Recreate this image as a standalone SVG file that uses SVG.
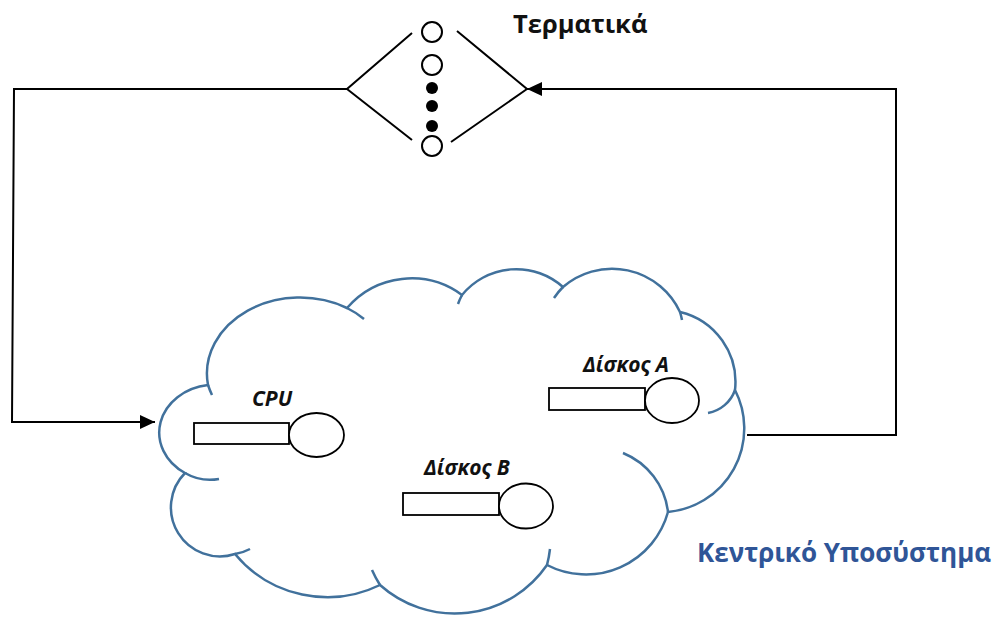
<svg xmlns="http://www.w3.org/2000/svg" width="996" height="617" viewBox="0 0 996 617">
  <defs>
    <marker id="arrow" markerUnits="userSpaceOnUse" markerWidth="16" markerHeight="14" refX="15" refY="7" orient="auto">
      <path d="M0,0 L15,7 L0,14 Z" fill="#000"/>
    </marker>
  </defs>
  <style>
    .cloud { fill: #fff; stroke: #41719C; stroke-width: 2.5; }
    .tail { fill: none; stroke: #41719C; stroke-width: 2.5; }
    .conn { fill: none; stroke: #000; stroke-width: 2; }
    .dev { fill: #fff; stroke: #000; stroke-width: 1.8; }
    .term { fill: #fff; stroke: #000; stroke-width: 2; }
    .dot { fill: #000; }
    .lbl { font-family: "Open Sans", "Liberation Sans", sans-serif; font-weight: bold; fill: #111; }
    .dlbl { font-family: "Open Sans", "Liberation Sans", sans-serif; font-weight: bold; font-style: italic; font-size: 21px; fill: #111; }
  </style>

  <!-- central subsystem: cloud outline with inner arc ticks -->
  <g id="central-subsystem">
    <path class="cloud" d="M185,473 A56,48 0 0 1 208,385 A93,76 0 0 1 347,308 A85,85 0 0 1 462,295 A70,70 0 0 1 563,287 A75,75 0 0 1 680,312 A72,72 0 0 1 735,390 A84,84 0 0 1 668,512 A85,85 0 0 1 547,565 A112,112 0 0 1 380,585 A120,120 0 0 1 235,554 A49,49 0 0 1 185,473 Z"/>
    <path class="tail" d="M185,473 A50,50 0 0 0 219,479"/>
    <path class="tail" d="M208,385 A90,90 0 0 0 212,395"/>
    <path class="tail" d="M347,308 A85,85 0 0 1 364,319"/>
    <path class="tail" d="M462,295 A70,70 0 0 0 458,304"/>
    <path class="tail" d="M563,287 A75,75 0 0 0 554,298"/>
    <path class="tail" d="M680,312 A75,75 0 0 1 682,320"/>
    <path class="tail" d="M735,390 A35,35 0 0 1 708,413"/>
    <path class="tail" d="M623,453 A73,73 0 0 1 668,512"/>
    <path class="tail" d="M547,565 A112,112 0 0 0 550,549"/>
    <path class="tail" d="M380,585 A112,112 0 0 1 372,570"/>
    <path class="tail" d="M235,554 A48,48 0 0 0 250,549"/>
    <text x="697" y="562" font-family="Open Sans, Liberation Sans, sans-serif" font-weight="bold" font-size="26" fill="#2F5597">Κεντρικό Υποσύστημα</text>
  </g>

  <!-- terminals -->
  <g id="terminals">
    <polyline class="conn" points="412,33 347,89 412,140"/>
    <polyline class="conn" points="457,31 527,89 451,142"/>
    <circle class="term" cx="432" cy="32" r="10"/>
    <circle class="term" cx="432" cy="65" r="10"/>
    <circle class="dot" cx="432" cy="88" r="6"/>
    <circle class="dot" cx="432" cy="106" r="6"/>
    <circle class="dot" cx="432" cy="126" r="6"/>
    <circle class="term" cx="432" cy="146" r="10"/>
    <text class="lbl" x="513" y="33" font-size="25.5">Τερματικά</text>
  </g>

  <!-- CPU -->
  <g id="cpu">
    <rect class="dev" x="194" y="423" width="95" height="21"/>
    <ellipse class="dev" cx="316.5" cy="435" rx="27.5" ry="22"/>
    <text class="dlbl" x="252" y="406">CPU</text>
  </g>

  <!-- disk A -->
  <g id="disk-a">
    <rect class="dev" x="549" y="388" width="96" height="22"/>
    <ellipse class="dev" cx="672" cy="400.5" rx="27" ry="22.5"/>
    <text class="dlbl" x="583" y="372">Δίσκος Α</text>
  </g>

  <!-- disk B -->
  <g id="disk-b">
    <rect class="dev" x="403" y="493" width="96" height="22"/>
    <ellipse class="dev" cx="526" cy="506" rx="27" ry="22.5"/>
    <text class="dlbl" x="424" y="475">Δίσκος Β</text>
  </g>

  <!-- connectors -->
  <g id="connectors">
    <polyline class="conn" points="347,89 14,89 12,422 155,422" marker-end="url(#arrow)"/>
    <polyline class="conn" points="747,435 896,435 896,89 527,89" marker-end="url(#arrow)"/>
  </g>
</svg>
